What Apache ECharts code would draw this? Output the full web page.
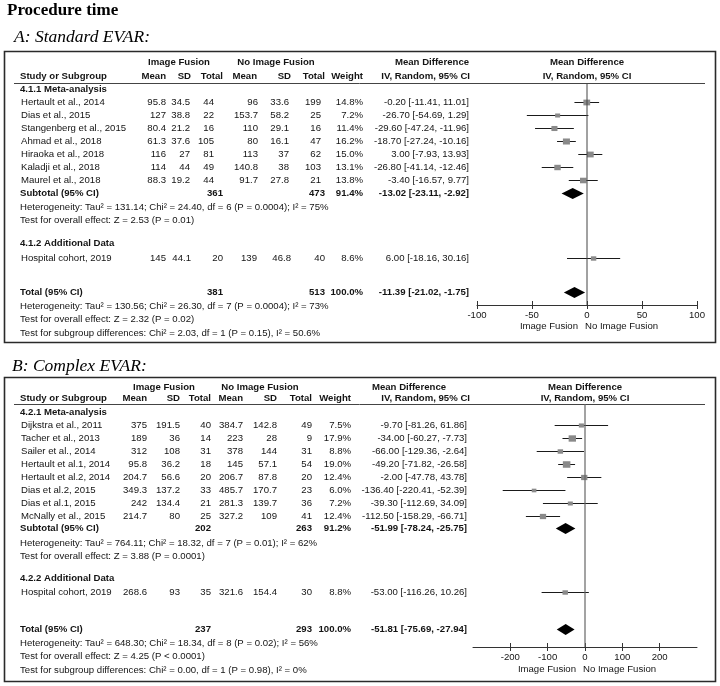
<!DOCTYPE html>
<html><head><meta charset="utf-8">
<script src="https://cdn.jsdelivr.net/npm/echarts@6/dist/echarts.min.js"></script>
<style>html,body{margin:0;padding:0;background:#fff}#c{width:720px;height:686px}</style>
</head><body><div id="c"></div>
<script>
// ================= DATA =================
// Panel A: Standard EVAR
const aStudies = ['Hertault et al., 2014','Dias et al., 2015','Stangenberg et al., 2015','Ahmad et al., 2018','Hiraoka et al., 2018','Kaladji et al., 2018','Maurel et al., 2018'];
const aIfMean  = [95.8, 127, 80.4, 61.3, 116, 114, 88.3];
const aIfSD    = [34.5, 38.8, 21.2, 37.6, 27, 44, 19.2];
const aIfN     = [44, 22, 16, 105, 81, 49, 44];
const aNoMean  = [96, 153.7, 110, 80, 113, 140.8, 91.7];
const aNoSD    = [33.6, 58.2, 29.1, 16.1, 37, 38, 27.8];
const aNoN     = [199, 25, 16, 47, 62, 103, 21];
const aWeight  = [14.8, 7.2, 11.4, 16.2, 15.0, 13.1, 13.8];
const aMD      = [-0.20, -26.70, -29.60, -18.70, 3.00, -26.80, -3.40];
const aLo      = [-11.41, -54.69, -47.24, -27.24, -7.93, -41.14, -16.57];
const aHi      = [11.01, 1.29, -11.96, -10.16, 13.93, -12.46, 9.77];
const aSubtotal = {n1: 361, n2: 473, w: 91.4, md: -13.02, lo: -23.11, hi: -2.92};
const aHosp     = {name: 'Hospital cohort, 2019', m1: 145, sd1: 44.1, n1: 20, m2: 139, sd2: 46.8, n2: 40, w: 8.6, md: 6.00, lo: -18.16, hi: 30.16};
const aTotal    = {n1: 381, n2: 513, w: 100.0, md: -11.39, lo: -21.02, hi: -1.75};
const aTexts = {
  meta: '4.1.1 Meta-analysis', add: '4.1.2 Additional Data',
  het1: 'Heterogeneity: Tau\u00b2 = 131.14; Chi\u00b2 = 24.40, df = 6 (P = 0.0004); I\u00b2 = 75%',
  test1: 'Test for overall effect: Z = 2.53 (P = 0.01)',
  het2: 'Heterogeneity: Tau\u00b2 = 130.56; Chi\u00b2 = 26.30, df = 7 (P = 0.0004); I\u00b2 = 73%',
  test2: 'Test for overall effect: Z = 2.32 (P = 0.02)',
  sgd: 'Test for subgroup differences: Chi\u00b2 = 2.03, df = 1 (P = 0.15), I\u00b2 = 50.6%'
};
const aTicks = [-100, -50, 0, 50, 100];
const aRange = [-100, 100];

// Panel B: Complex EVAR
const bStudies = ['Dijkstra et al., 2011','Tacher et al., 2013','Sailer et al., 2014','Hertault et al.1, 2014','Hertault et al.2, 2014','Dias et al.2, 2015','Dias et al.1, 2015','McNally et al., 2015'];
const bIfMean  = [375, 189, 312, 95.8, 204.7, 349.3, 242, 214.7];
const bIfSD    = [191.5, 36, 108, 36.2, 56.6, 137.2, 134.4, 80];
const bIfN     = [40, 14, 31, 18, 20, 33, 21, 25];
const bNoMean  = [384.7, 223, 378, 145, 206.7, 485.7, 281.3, 327.2];
const bNoSD    = [142.8, 28, 144, 57.1, 87.8, 170.7, 139.7, 109];
const bNoN     = [49, 9, 31, 54, 20, 23, 36, 41];
const bWeight  = [7.5, 17.9, 8.8, 19.0, 12.4, 6.0, 7.2, 12.4];
const bMD      = [-9.70, -34.00, -66.00, -49.20, -2.00, -136.40, -39.30, -112.50];
const bLo      = [-81.26, -60.27, -129.36, -71.82, -47.78, -220.41, -112.69, -158.29];
const bHi      = [61.86, -7.73, -2.64, -26.58, 43.78, -52.39, 34.09, -66.71];
const bSubtotal = {n1: 202, n2: 263, w: 91.2, md: -51.99, lo: -78.24, hi: -25.75};
const bHosp     = {name: 'Hospital cohort, 2019', m1: 268.6, sd1: 93, n1: 35, m2: 321.6, sd2: 154.4, n2: 30, w: 8.8, md: -53.00, lo: -116.26, hi: 10.26};
const bTotal    = {n1: 237, n2: 293, w: 100.0, md: -51.81, lo: -75.69, hi: -27.94};
const bTexts = {
  meta: '4.2.1 Meta-analysis', add: '4.2.2 Additional Data',
  het1: 'Heterogeneity: Tau\u00b2 = 764.11; Chi\u00b2 = 18.32, df = 7 (P = 0.01); I\u00b2 = 62%',
  test1: 'Test for overall effect: Z = 3.88 (P = 0.0001)',
  het2: 'Heterogeneity: Tau\u00b2 = 648.30; Chi\u00b2 = 18.34, df = 8 (P = 0.02); I\u00b2 = 56%',
  test2: 'Test for overall effect: Z = 4.25 (P < 0.0001)',
  sgd: 'Test for subgroup differences: Chi\u00b2 = 0.00, df = 1 (P = 0.98), I\u00b2 = 0%'
};
const bTicks = [-200, -100, 0, 100, 200];
const bRange = [-300, 300];

const headerCols = ['Mean', 'SD', 'Total', 'Mean', 'SD', 'Total', 'Weight'];

// ================= LAYOUT =================
const FONT = '"Liberation Sans", Arial, Helvetica, sans-serif';
const SERIF = '"Liberation Serif", "Times New Roman", serif';
const TXT = '#141414';
const FS = 9.6;

const LA = {
  boxTop: 51, boxBottom: 342, hdr1: 62, hdr2: 76, line: 83, axisY: 305,
  meta: 89, rows: [102, 115, 128, 141, 154, 167, 180], sub: 193, het1: 207, test1: 220,
  add: 243, hosp: 258, total: 292, het2: 306, test2: 319, sgd: 333, dirY: 326,
  colsHdr: [166, 191, 223, 257, 291, 325, 363], colsVal: [166, 190, 214, 258, 289, 321, 363],
  ciR: 469, ifC: 179, nifC: 276, mdC: 432, ivR: 470, plotL: 477, plotR: 697
};
const LB = {
  boxTop: 377, boxBottom: 681, hdr1: 387, hdr2: 398, line: 404, axisY: 647,
  meta: 412, rows: [425, 438, 451, 464, 477, 490, 503, 516], sub: 528, het1: 543, test1: 556,
  add: 578, hosp: 592, total: 629, het2: 643, test2: 656, sgd: 670, dirY: 669,
  colsHdr: [147, 180, 211, 243, 277, 312, 351], colsVal: [147, 180, 211, 243, 277, 312, 351],
  ciR: 467, ifC: 164, nifC: 260, mdC: 409, ivR: 470, plotL: 473, plotR: 697
};

// ================= BUILD =================
const graphic = [];
function txt(x, y, s, o) {
  o = o || {};
  graphic.push({
    type: 'text', x: x, y: y, silent: true,
    style: {
      text: s, fontFamily: o.family || FONT, fontSize: o.size || FS,
      fontWeight: o.bold ? 'bold' : 'normal', fontStyle: o.italic ? 'italic' : 'normal',
      fill: o.color || TXT, align: o.align || 'left', verticalAlign: 'middle'
    }
  });
}
function hline(x1, x2, y, color, w) {
  graphic.push({type: 'line', silent: true, shape: {x1: x1, y1: y + 0.5, x2: x2, y2: y + 0.5}, style: {stroke: color, lineWidth: w}});
}
function box(top, bottom) {
  graphic.push({type: 'rect', silent: true, shape: {x: 4.5, y: top + 0.5, width: 711, height: bottom - top}, style: {fill: 'none', stroke: '#2a2a2a', lineWidth: 1.6}});
}
const fmtW = w => w.toFixed(1) + '%';
const fmtCI = (m, l, h) => m.toFixed(2) + ' [' + l.toFixed(2) + ', ' + h.toFixed(2) + ']';

function buildPanel(L, d) {
  box(L.boxTop, L.boxBottom);
  // headers
  txt(L.ifC, L.hdr1, 'Image Fusion', {bold: true, align: 'center'});
  txt(L.nifC, L.hdr1, 'No Image Fusion', {bold: true, align: 'center'});
  txt(L.mdC, L.hdr1, 'Mean Difference', {bold: true, align: 'center'});
  const pc = (L.plotL + L.plotR) / 2;
  txt(pc, L.hdr1, 'Mean Difference', {bold: true, align: 'center'});
  txt(20, L.hdr2, 'Study or Subgroup', {bold: true});
  headerCols.forEach((h, i) => txt(L.colsHdr[i], L.hdr2, h, {bold: true, align: 'right'}));
  txt(L.ivR, L.hdr2, 'IV, Random, 95% CI', {bold: true, align: 'right'});
  txt(pc, L.hdr2, 'IV, Random, 95% CI', {bold: true, align: 'center'});
  hline(14, 705, L.line, '#444', 1);
  // subgroup 1
  txt(20, L.meta, d.texts.meta, {bold: true});
  d.studies.forEach((s, i) => {
    const y = L.rows[i];
    txt(21, y, s);
    const vals = [d.ifMean[i], d.ifSD[i], d.ifN[i], d.noMean[i], d.noSD[i], d.noN[i]];
    vals.forEach((v, j) => txt(L.colsVal[j], y, String(v), {align: 'right'}));
    txt(L.colsVal[6], y, fmtW(d.weight[i]), {align: 'right'});
    txt(L.ciR, y, fmtCI(d.md[i], d.lo[i], d.hi[i]), {align: 'right'});
  });
  const st = d.subtotal;
  txt(20, L.sub, 'Subtotal (95% CI)', {bold: true});
  txt(L.colsHdr[2], L.sub, String(st.n1), {bold: true, align: 'right'});
  txt(L.colsHdr[5], L.sub, String(st.n2), {bold: true, align: 'right'});
  txt(L.colsHdr[6], L.sub, fmtW(st.w), {bold: true, align: 'right'});
  txt(L.ciR, L.sub, fmtCI(st.md, st.lo, st.hi), {bold: true, align: 'right'});
  txt(20, L.het1, d.texts.het1);
  txt(20, L.test1, d.texts.test1);
  // subgroup 2
  txt(20, L.add, d.texts.add, {bold: true});
  const h = d.hosp;
  txt(21, L.hosp, h.name);
  [h.m1, h.sd1, h.n1, h.m2, h.sd2, h.n2].forEach((v, j) => txt(L.colsHdr[j], L.hosp, String(v), {align: 'right'}));
  txt(L.colsHdr[6], L.hosp, fmtW(h.w), {align: 'right'});
  txt(L.ciR, L.hosp, fmtCI(h.md, h.lo, h.hi), {align: 'right'});
  // total
  const t = d.total;
  txt(20, L.total, 'Total (95% CI)', {bold: true});
  txt(L.colsHdr[2], L.total, String(t.n1), {bold: true, align: 'right'});
  txt(L.colsHdr[5], L.total, String(t.n2), {bold: true, align: 'right'});
  txt(L.colsHdr[6], L.total, fmtW(t.w), {bold: true, align: 'right'});
  txt(L.ciR, L.total, fmtCI(t.md, t.lo, t.hi), {bold: true, align: 'right'});
  txt(20, L.het2, d.texts.het2);
  txt(20, L.test2, d.texts.test2);
  txt(20, L.sgd, d.texts.sgd);
}

const dA = {studies: aStudies, ifMean: aIfMean, ifSD: aIfSD, ifN: aIfN, noMean: aNoMean, noSD: aNoSD, noN: aNoN,
  weight: aWeight, md: aMD, lo: aLo, hi: aHi, subtotal: aSubtotal, hosp: aHosp, total: aTotal, texts: aTexts};
const dB = {studies: bStudies, ifMean: bIfMean, ifSD: bIfSD, ifN: bIfN, noMean: bNoMean, noSD: bNoSD, noN: bNoN,
  weight: bWeight, md: bMD, lo: bLo, hi: bHi, subtotal: bSubtotal, hosp: bHosp, total: bTotal, texts: bTexts};

// titles
txt(7, 11, 'Procedure time', {family: SERIF, size: 17, bold: true, color: '#000'});
txt(14, 37, 'A: Standard EVAR:', {family: SERIF, size: 17.5, italic: true, color: '#000'});
txt(12, 366, 'B: Complex EVAR:', {family: SERIF, size: 17.5, italic: true, color: '#000'});
buildPanel(LA, dA);
buildPanel(LB, dB);

// forest data items: [md, lo, hi, rowY, weight, kind(0=study,1=diamond)]
function forestData(L, d) {
  const out = d.md.map((m, i) => [m, d.lo[i], d.hi[i], L.rows[i], d.weight[i], 0]);
  out.push([d.subtotal.md, d.subtotal.lo, d.subtotal.hi, L.sub, d.subtotal.w, 1]);
  out.push([d.hosp.md, d.hosp.lo, d.hosp.hi, L.hosp, d.hosp.w, 0]);
  out.push([d.total.md, d.total.lo, d.total.hi, L.total, d.total.w, 1]);
  return out;
}
function renderForest(params, api) {
  const y = api.value(3);
  const c = api.coord([api.value(0), y]);
  const l = api.coord([api.value(1), y]);
  const r = api.coord([api.value(2), y]);
  const cy = Math.round(c[1]) + 0.5;
  if (api.value(5) === 0) {
    const s = Math.max(3, 1.5 * Math.sqrt(api.value(4)));
    return {type: 'group', children: [
      {type: 'line', shape: {x1: l[0], y1: cy, x2: r[0], y2: cy}, style: {stroke: '#1a1a1a', lineWidth: 1}},
      {type: 'rect', shape: {x: c[0] - s / 2 - 0.5, y: cy - s / 2, width: s + 1, height: s}, style: {fill: '#8a8a8a'}}
    ]};
  }
  const hh = 5.5;
  return {type: 'polygon', shape: {points: [[l[0], cy], [c[0], cy - hh], [r[0], cy], [c[0], cy + hh]]}, style: {fill: '#000'}};
}

function gridOf(L) {
  return {left: L.plotL, width: L.plotR - L.plotL, top: L.line, height: L.axisY - L.line, outerBoundsMode: 'none', containLabel: false};
}
function xAxes(idx, range, ticks) {
  const base = {
    gridIndex: idx, type: 'value', min: range[0], max: range[1], interval: ticks[1] - ticks[0],
    splitLine: {show: false}, position: 'bottom'
  };
  return [
    Object.assign({}, base, {
      axisLine: {lineStyle: {color: '#333', width: 1}},
      axisTick: {length: 4, lineStyle: {color: '#333'}, customValues: ticks},
      axisLabel: {margin: 5, fontSize: FS, fontFamily: FONT, color: TXT, customValues: ticks,
        formatter: v => (ticks.indexOf(v) >= 0 ? String(v) : '')}
    }),
    Object.assign({}, base, {
      axisLine: {show: false},
      axisTick: {inside: true, length: 4, lineStyle: {color: '#333'}, customValues: ticks},
      axisLabel: {show: false}
    })
  ];
}
function yAxisOf(idx, L) {
  return {gridIndex: idx, type: 'value', inverse: true, min: L.line, max: L.axisY, show: false};
}

const xa = xAxes(0, aRange, aTicks), xb = xAxes(1, bRange, bTicks);
const option = {
  animation: false,
  backgroundColor: '#fff',
  grid: [gridOf(LA), gridOf(LB)],
  xAxis: [xa[0], xa[1], xb[0], xb[1]],
  yAxis: [yAxisOf(0, LA), yAxisOf(1, LB)],
  series: [
    {type: 'line', xAxisIndex: 0, yAxisIndex: 0, data: [[0, LA.line], [0, LA.axisY]], symbol: 'none',
      lineStyle: {color: '#444', width: 1}, silent: true},
    {type: 'line', xAxisIndex: 2, yAxisIndex: 1, data: [[0, LB.line], [0, LB.axisY]], symbol: 'none',
      lineStyle: {color: '#666', width: 1.2}, silent: true},
    {type: 'custom', xAxisIndex: 0, yAxisIndex: 0, renderItem: renderForest, data: forestData(LA, dA), silent: true, clip: false},
    {type: 'custom', xAxisIndex: 2, yAxisIndex: 1, renderItem: renderForest, data: forestData(LB, dB), silent: true, clip: false}
  ],
  graphic: graphic
};
const chart = echarts.init(document.getElementById('c'), null, {renderer: 'canvas'});
chart.setOption(option);

// direction labels placed relative to the zero of each axis
function dirLabels(L, xi) {
  const z = chart.convertToPixel({xAxisIndex: xi}, 0);
  return [
    {type: 'text', x: z - 9, y: L.dirY, silent: true, style: {text: 'Image Fusion', fontFamily: FONT, fontSize: FS, fill: TXT, align: 'right', verticalAlign: 'middle'}},
    {type: 'text', x: z - 2, y: L.dirY, silent: true, style: {text: 'No Image Fusion', fontFamily: FONT, fontSize: FS, fill: TXT, align: 'left', verticalAlign: 'middle'}}
  ];
}
const extra = dirLabels(LA, 0).concat(dirLabels(LB, 2));
chart.setOption({graphic: graphic.concat(extra)});
</script></body></html>
